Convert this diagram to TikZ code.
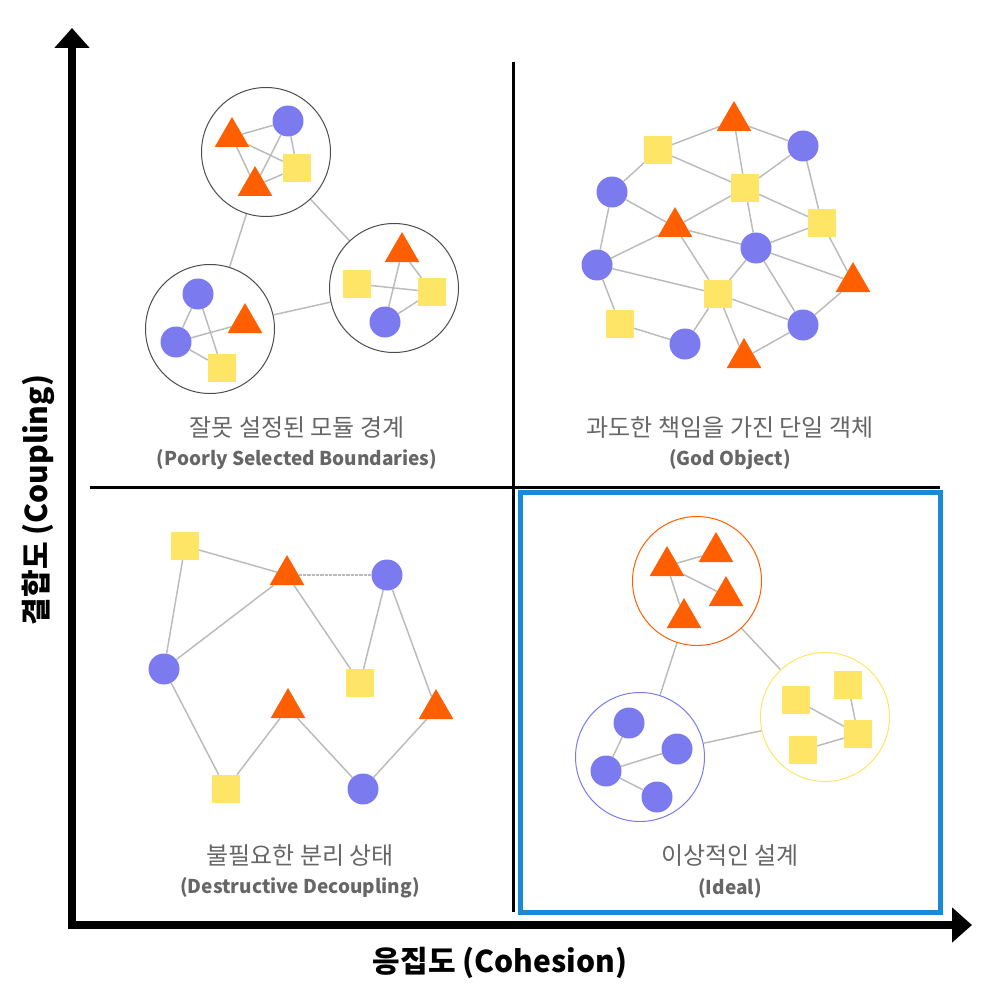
\documentclass[tikz,border=0pt]{standalone}
\usepackage{fontspec}
\setmainfont{Noto Sans CJK KR}
\usetikzlibrary{shapes.geometric,backgrounds,arrows.meta}
\definecolor{cb}{HTML}{7B7BEF}
\definecolor{sy}{HTML}{FFE566}
\definecolor{to}{HTML}{FF5F00}
\definecolor{ed}{HTML}{BBBBBB}
\definecolor{tg}{HTML}{666666}
\definecolor{bl}{HTML}{1A8AD8}
\begin{document}
\begin{tikzpicture}[x=1pt,y=-1pt,
 cir/.style={circle,fill=cb,minimum size=31pt,inner sep=0},
 sq/.style={rectangle,fill=sy,minimum size=28pt,inner sep=0},
 tri/.style={regular polygon,regular polygon sides=3,fill=to,minimum size=40pt,inner sep=0,yshift=-4pt},
 grp/.style={circle,draw=#1,line width=1pt,minimum size=129pt,inner sep=0},
 e/.style={draw=ed,line width=1.5pt,dotted,dash pattern=on 1pt off 0.3pt},
 ttl/.style={text=tg,font=\fontsize{24}{28}\selectfont},
 sub/.style={text=tg,font=\bfseries\fontsize{19}{22}\selectfont}]
\useasboundingbox (0,0) rectangle (1000,1000);
% axes
\coordinate (o) at (72,925);
\coordinate (yt) at (72,28);
\coordinate (xt) at (972,925);
\draw[line width=8pt,-{Triangle[length=20pt,width=34pt]}] (72,929) -- (yt);
\draw[line width=8pt,-{Triangle[length=20pt,width=34pt]}] (68,925) -- (xt);
\draw[line width=3pt] (513,62) -- (513,912);
\draw[line width=3pt] (90,487) -- (940,487);
\draw[bl,line width=5pt] (520,492) rectangle (940,912);
\node[font=\bfseries\fontsize{30}{34}\selectfont] (xl) at (500,963) {응집도 (Cohesion)};
\node[font=\bfseries\fontsize{30}{34}\selectfont,rotate=90] (yl) at (38,500) {결합도 (Coupling)};
% Q1
\node[grp=black!70] (A) at (266,152) {};
\node[grp=black!70] (B) at (210,329) {};
\node[grp=black!70] (C) at (394,288) {};
\node[tri] (a1) at (232,133) {};
\node[cir] (a2) at (288,121) {};
\node[sq] (a3) at (297,168) {};
\node[tri] (a4) at (255,182) {};
\node[cir] (b1) at (198,294) {};
\node[cir] (b2) at (176,342) {};
\node[tri] (b3) at (245,319) {};
\node[sq] (b4) at (222,368) {};
\node[tri] (c1) at (402,248) {};
\node[sq] (c2) at (357,284) {};
\node[sq] (c3) at (432,292) {};
\node[cir] (c4) at (385,322) {};
\node[ttl] (t1) at (297,428) {잘못 설정된 모듈 경계};
\node[sub] (u1) at (297,460) {(Poorly Selected Boundaries)};
% Q2
\node[tri] (T1) at (734,117) {};
\node[sq] (S1) at (658,150) {};
\node[cir] (C1) at (803,146) {};
\node[cir] (C2) at (612,192) {};
\node[sq] (S2) at (745,188) {};
\node[tri] (T2) at (675,223) {};
\node[sq] (S3) at (822,223) {};
\node[cir] (C3) at (756,248) {};
\node[cir] (C4) at (597,265) {};
\node[tri] (T3) at (853,278) {};
\node[sq] (S4) at (718,294) {};
\node[sq] (S5) at (620,324) {};
\node[cir] (C5) at (685,344) {};
\node[cir] (C6) at (803,325) {};
\node[tri] (T4) at (744,354) {};
\node[ttl] (t2) at (730,428) {과도한 책임을 가진 단일 객체};
\node[sub] (u2) at (730,460) {(God Object)};
% Q3
\node[sq] (d1) at (185,546) {};
\node[tri] (d2) at (287,571) {};
\node[cir] (d3) at (387,575) {};
\node[cir] (d4) at (164,669) {};
\node[sq] (d5) at (360,683) {};
\node[tri] (d6) at (288,704) {};
\node[tri] (d7) at (436,705) {};
\node[sq] (d8) at (226,789) {};
\node[cir] (d9) at (363,789) {};
\node[ttl] (t3) at (300,856) {불필요한 분리 상태};
\node[sub] (u3) at (300,888) {(Destructive Decoupling)};
% Q4
\node[grp=to] (O) at (697,581) {};
\node[grp=cb] (P) at (640,757) {};
\node[grp=sy] (Q) at (825,717) {};
\node[tri] (o1) at (667,562) {};
\node[tri] (o2) at (716,548) {};
\node[tri] (o3) at (726,592) {};
\node[tri] (o4) at (684,614) {};
\node[cir] (p1) at (629,723) {};
\node[cir] (p2) at (677,749) {};
\node[cir] (p3) at (606,771) {};
\node[cir] (p4) at (657,797) {};
\node[sq] (q1) at (796,700) {};
\node[sq] (q2) at (848,685) {};
\node[sq] (q3) at (858,734) {};
\node[sq] (q4) at (803,750) {};
\node[ttl] (t4) at (730,856) {이상적인 설계};
\node[sub] (u4) at (730,888) {(Ideal)};
\begin{scope}[on background layer]
\foreach \u/\v in {a1/a2,a1/a3,a1/a4,a2/a4,a2/a3,a4/a3,b1/b2,b1/b4,b2/b3,b2/b4,c1/c3,c2/c3,c1/c4,c4/c3,A/B,A/C,B/C,
S1/T1,T1/C1,T1/S2,S1/C2,S1/S2,C1/S2,C1/S3,C2/T2,C2/C4,S2/T2,S2/C3,S2/S3,T2/C3,T2/C4,T2/S4,S3/C3,S3/T3,C3/S4,C3/T3,C3/C6,C4/S4,C4/S5,S4/C5,S4/C6,S4/T4,S5/C5,C6/T3,C6/T4,
d1/d4,d1/d2,d2/d3,d2/d4,d2/d5,d3/d5,d3/d7,d4/d8,d8/d6,d6/d9,d9/d7,
o1/o2,o1/o3,o1/o4,p1/p3,p3/p2,p3/p4,q1/q3,q2/q3,q4/q3,O/P,O/Q,P/Q}
 \path[e] (\u) -- (\v);
\end{scope}
\end{tikzpicture}
\end{document}
